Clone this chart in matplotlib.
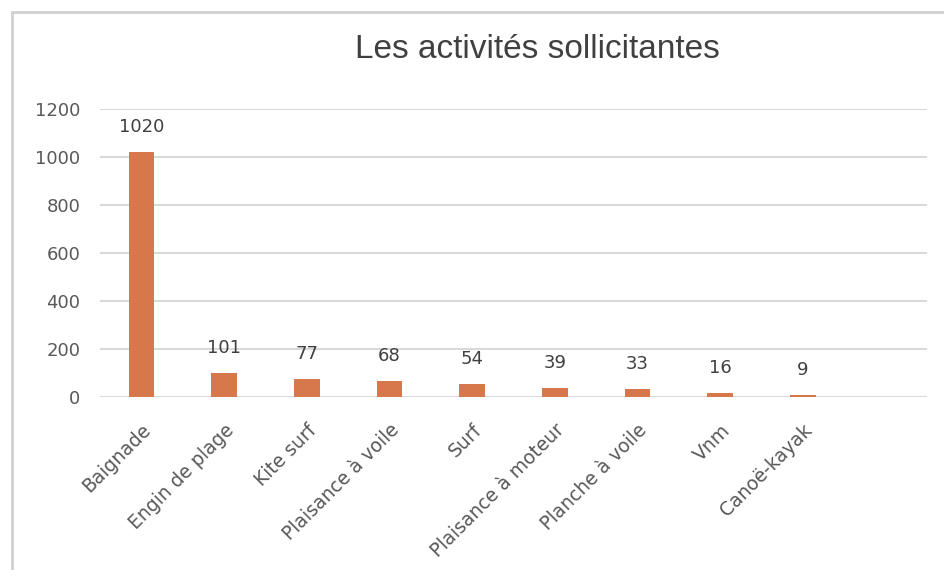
import matplotlib.pyplot as plt
import numpy as np
from matplotlib.patches import Rectangle

# données
activites = ["Baignade", "Engin de plage", "Kite surf", "Plaisance à voile", "Surf",
             "Plaisance à moteur", "Planche à voile", "Vnm", "Canoë-kayak", ""]
valeurs = [1020, 101, 77, 68, 54, 39, 33, 16, 9, None]
titre = "Les activités sollicitantes"

orange = '#D6774C'
gris_txt = '#595959'
gris_grille = '#D9D9D9'

plt.rcParams['font.family'] = ['DejaVu Sans']

fig = plt.figure(figsize=(9.44, 5.70), dpi=100)
ax = fig.add_axes([100/944, 1-397/570, 827/944, 288/570])

x = np.arange(len(activites))
hauteurs = [v if v is not None else 0 for v in valeurs]
ax.bar(x, hauteurs, width=0.31, color=orange, zorder=3)

# étiquettes de données
for xi, v in zip(x, valeurs):
    if v is None:
        continue
    ax.annotate(str(v), (xi, v), xytext=(0, 18), textcoords='offset points',
                ha='center', va='center', fontsize=13, color='#404040')

ax.set_xlim(-0.5, len(activites) - 0.5)
ax.set_ylim(0, 1200)
ax.set_yticks(np.arange(0, 1201, 200))
ax.grid(axis='y', color=gris_grille, linewidth=1.5, zorder=0)
for s in ax.spines.values():
    s.set_visible(False)
ax.tick_params(length=0)
ax.tick_params(axis='y', pad=14, labelsize=13, labelcolor=gris_txt)

ax.set_xticks(x)
ax.set_xticklabels(activites, rotation=45, ha='right', rotation_mode='anchor',
                   fontsize=13.5, color=gris_txt)
ax.tick_params(axis='x', pad=17)

fig.text(537/944, 1-50/570, titre, ha='center', va='center', fontsize=24,
         color='#404040', family='Liberation Sans')

# cadre du graphique
fig.patches.append(Rectangle((12/944, -0.1), 1.1, 1.1 - 12/570, transform=fig.transFigure,
                             fill=False, edgecolor='#D0D0D0', linewidth=2))

fig.savefig('out.png', dpi=100)
